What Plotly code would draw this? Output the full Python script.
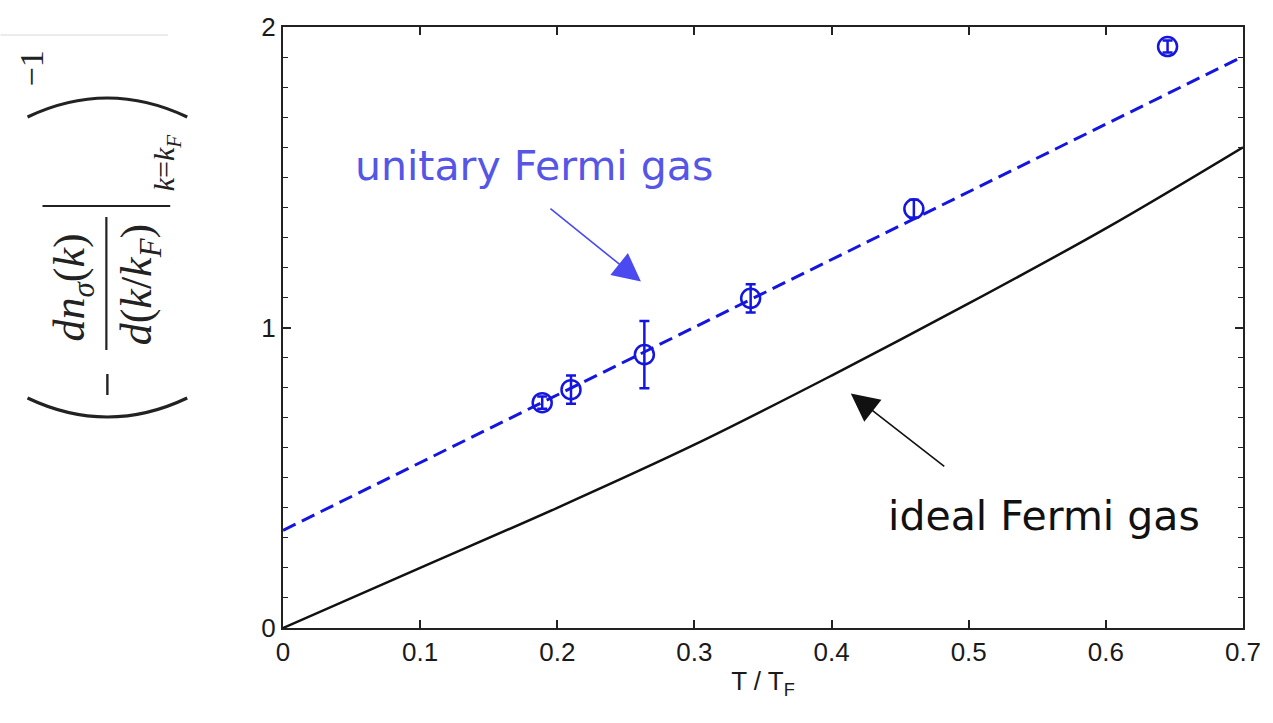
import plotly.graph_objects as go

# ---- data ----
T_data = [0.189, 0.210, 0.2635, 0.341, 0.460, 0.645]
y_data = [0.750, 0.793, 0.910, 1.097, 1.395, 1.935]
y_err = [0.02, 0.047, 0.112, 0.047, 0.03, 0.02]

fit_T = [0.0, 0.7]
fit_y = [0.325, 1.902]

ideal_T = [0.0, 0.1, 0.2, 0.3, 0.4, 0.5, 0.6, 0.7]
ideal_y = [0.0, 0.20, 0.40, 0.61, 0.84, 1.08, 1.33, 1.60]

x_ticks = [0, 0.1, 0.2, 0.3, 0.4, 0.5, 0.6, 0.7]
x_ticklabels = ["0", "0.1", "0.2", "0.3", "0.4", "0.5", "0.6", "0.7"]
y_ticks = [0, 1, 2]
y_ticklabels = ["0", "1", "2"]

# ---- layout geometry (pixels) ----
W, H = 1273, 723
L, R, T, B = 283, 1245, 27, 628


def px(x):
    return (x - L) / (R - L)


def py(y):
    return (B - y) / (B - T)


BLUE = "#1515e0"
TEXT_BLUE = "#5555e6"
DARK = "#1a1a1a"

fig = go.Figure()

fig.add_trace(go.Scatter(
    x=ideal_T, y=ideal_y, mode="lines", line=dict(color="#111111", width=2.5, shape="spline"),
    showlegend=False, hoverinfo="skip"))

fig.add_trace(go.Scatter(
    x=fit_T, y=fit_y, mode="lines", line=dict(color=BLUE, width=3, dash="14px,7px"),
    showlegend=False, hoverinfo="skip"))

fig.add_trace(go.Scatter(
    x=T_data, y=y_data, mode="markers",
    marker=dict(symbol="circle-open", size=19, color=BLUE, line=dict(width=2.5, color=BLUE)),
    error_y=dict(type="data", array=y_err, color=BLUE, thickness=2.5, width=5),
    showlegend=False))

axis_common = dict(
    showline=True, linecolor="#222222", linewidth=2, mirror="ticks",
    ticks="inside", tickcolor="#222222", tickwidth=1.5,
    showgrid=False, zeroline=False,
    tickfont=dict(family="Liberation Sans, Arial, sans-serif", size=26, color=DARK),
)

fig.update_layout(
    width=W, height=H,
    margin=dict(l=L, r=W - R, t=T, b=H - B),
    paper_bgcolor="white", plot_bgcolor="white",
    xaxis=dict(range=[0, 0.7], tickvals=x_ticks, ticktext=x_ticklabels, ticklen=8,
               title=dict(text="T / T<sub>F</sub>", font=dict(family="Liberation Sans, Arial, sans-serif",
                                                         size=26, color=DARK), standoff=6),
               **axis_common),
    yaxis=dict(range=[0, 2], tickvals=y_ticks, ticktext=y_ticklabels, ticklen=8,
               minor=dict(dtick=0.1, ticks="inside", ticklen=5, tickcolor="#222222", tickwidth=1.2),
               **axis_common),
)

# ---- curve labels and arrows ----
fig.add_annotation(x=0.183, y=1.537, xref="x", yref="y", text="unitary Fermi gas", showarrow=False,
                   font=dict(family="DejaVu Sans, sans-serif", size=41, color=TEXT_BLUE))
fig.add_annotation(x=0.555, y=0.373, xref="x", yref="y", text="ideal Fermi gas", showarrow=False,
                   font=dict(family="DejaVu Sans, sans-serif", size=41, color="#111111"))
fig.add_annotation(x=0.261, y=1.153, xref="x", yref="y", text="", showarrow=True,
                   ax=-92, ay=-74, arrowhead=2, arrowsize=3.5, arrowwidth=1.6,
                   arrowcolor="#4a4af0", standoff=0)
fig.add_annotation(x=0.414, y=0.78, xref="x", yref="y", text="", showarrow=True,
                   ax=95, ay=74, arrowhead=2, arrowsize=3.5, arrowwidth=1.6,
                   arrowcolor="#111111", standoff=0)

# ---- y-axis label (rotated math expression) ----
SERIF = "Liberation Serif, DejaVu Serif, serif"
LBL = "#222222"


def rot_text(cx, cy, text, size):
    fig.add_annotation(x=px(cx), y=py(cy), xref="paper", yref="paper", text=text,
                       textangle=-90, showarrow=False, xanchor="center", yanchor="middle",
                       font=dict(family=SERIF, size=size, color=LBL))


rot_text(73, 287, "<i>dn<sub>σ</sub></i>(<i>k</i>)", 44)
rot_text(140, 285, "<i>d</i>(<i>k</i>/<i>k<sub>F</sub></i>)", 44)
rot_text(166, 163, "<i>k</i>=<i>k<sub>F</sub></i>", 30)
rot_text(30, 69, "−1", 34)

shapes = []
# fraction bar
shapes.append(dict(type="line", xref="paper", yref="paper", x0=px(106), x1=px(106), y0=py(217), y1=py(350),
                   line=dict(color=LBL, width=2.2)))
# minus sign
shapes.append(dict(type="line", xref="paper", yref="paper", x0=px(107), x1=px(107), y0=py(374), y1=py(395),
                   line=dict(color=LBL, width=2.4)))
# evaluation bar
shapes.append(dict(type="line", xref="paper", yref="paper", x0=px(42), x1=px(170), y0=py(206), y1=py(206),
                   line=dict(color=LBL, width=2.2)))


# big parentheses (rotated)
def paren(y_end, y_mid):
    ctrl = 2 * y_mid - y_end
    path = "M {:.5f},{:.5f} Q {:.5f},{:.5f} {:.5f},{:.5f}".format(
        px(27), py(y_end), px(107), py(ctrl), px(187), py(y_end))
    return dict(type="path", xref="paper", yref="paper", path=path, line=dict(color=LBL, width=3.2))


shapes.append(paren(398, 417))
shapes.append(paren(117, 98))
# faint line at top left
shapes.append(dict(type="line", xref="paper", yref="paper", x0=px(0), x1=px(168), y0=py(35), y1=py(35),
                   line=dict(color="#d8d8d8", width=1)))
fig.update_layout(shapes=shapes)

fig.write_html("out.html")
